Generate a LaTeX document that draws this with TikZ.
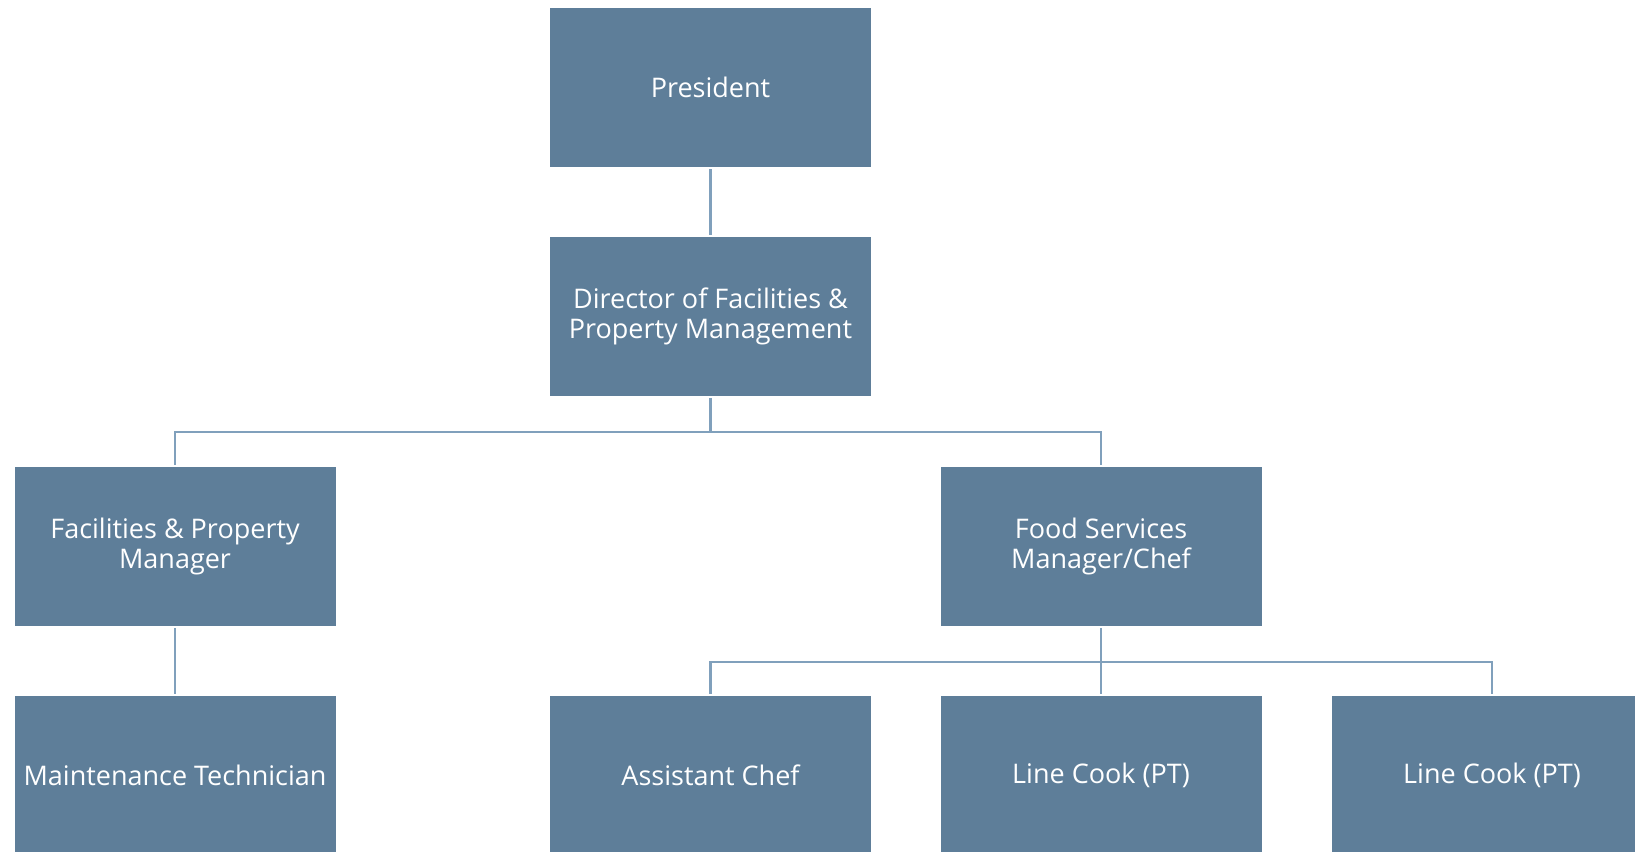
\documentclass[tikz,border=0pt]{standalone}
\usepackage{fontspec}
\setmainfont{Open Sans}
\definecolor{boxblue}{RGB}{94,126,153}
\definecolor{linkblue}{RGB}{128,160,188}
\tikzset{
  post/.style={fill=boxblue, text=white, minimum width=321pt, minimum height=159pt,
    inner sep=0pt, align=center, font=\fontsize{27}{29.5}\selectfont},
  link/.style={draw=linkblue, line width=2.5pt, shorten <=2pt, shorten >=2pt}
}
\begin{document}
\begin{tikzpicture}[x=1pt,y=-1pt]
\useasboundingbox (0,0) rectangle (1635,851);
\clip (0,0) rectangle (1635,851);
% rows of posts
\node [post] (pres) at (710.5,87.5) {President};
\node [post] (dir) at (710.5,316.5) {Director of Facilities \&\\Property Management};
\node [post] (fac) at (175,546.5) {Facilities \& Property\\Manager};
\node [post] (food) at (1101,546.5) {Food Services\\Manager/Chef};
\node [post] (maint) at (175,775.5) {Maintenance Technician};
\node [post] (asst) at (710.5,775.5) {Assistant Chef};
\node [post] (cookA) at (1101,775.5) {Line Cook (PT)};
\node [post] (cookB) at (1492,775.5) {Line Cook (PT)};
% branch points
\coordinate (busA) at (710.5,432);
\coordinate (busB) at (1101,662);
% connectors
\draw [link] (pres.south) -- (dir.north);
\draw [link, shorten >=0pt] (dir.south) -- (busA);
\draw [link, shorten <=0pt] (busA) -| (fac.north);
\draw [link, shorten <=0pt] (busA) -| (food.north);
\draw [link] (fac.south) -- (maint.north);
\draw [link] (food.south) -- (cookA.north);
\draw [link, shorten <=0pt] (busB) -| (asst.north);
\draw [link, shorten <=0pt] (busB) -| (cookB.north);
\end{tikzpicture}
\end{document}
